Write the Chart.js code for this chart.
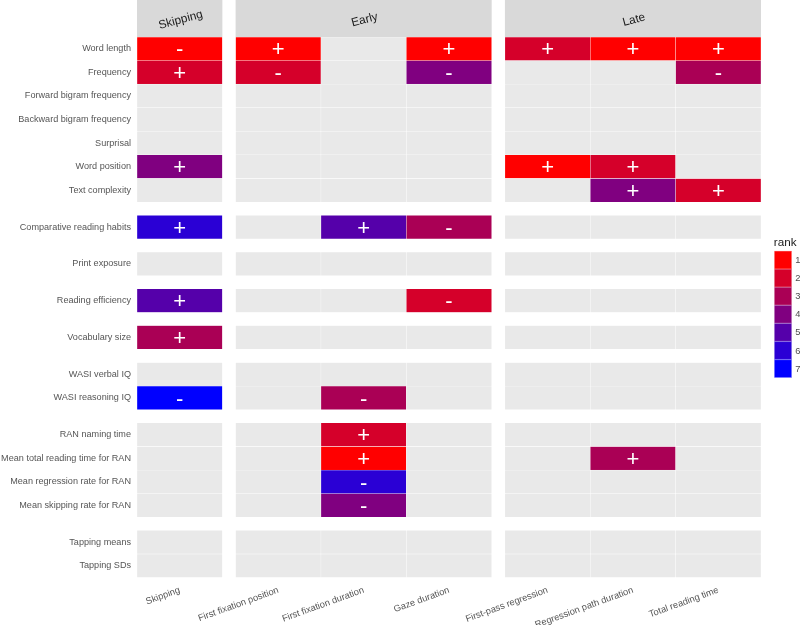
<!DOCTYPE html>
<html>
<head>
<meta charset="utf-8">
<script src="https://cdn.jsdelivr.net/npm/chart.js@4.4.1/dist/chart.umd.min.js"></script>
<style>
  html, body { margin: 0; padding: 0; background: #ffffff; }
  #wrap { width: 800px; height: 625px; }
</style>
</head>
<body>
<div id="wrap"><canvas id="c" width="800" height="625"></canvas></div>
<script>
// ---------------- DATA ----------------
const predictors = [
  'Word length', 'Frequency', 'Forward bigram frequency', 'Backward bigram frequency',
  'Surprisal', 'Word position', 'Text complexity',
  'Comparative reading habits',
  'Print exposure',
  'Reading efficiency',
  'Vocabulary size',
  'WASI verbal IQ', 'WASI reasoning IQ',
  'RAN naming time', 'Mean total reading time for RAN', 'Mean regression rate for RAN', 'Mean skipping rate for RAN',
  'Tapping means', 'Tapping SDs'
];
const predictorGroup = [0,0,0,0,0,0,0, 1, 2, 3, 4, 5,5, 6,6,6,6, 7,7];

const facets = ['Skipping', 'Early', 'Late'];
const measures = ['Skipping', 'First fixation position', 'First fixation duration', 'Gaze duration',
                  'First-pass regression', 'Regression path duration', 'Total reading time'];
const measureFacet = [0, 1, 1, 1, 2, 2, 2];

const rankLevels = [1, 2, 3, 4, 5, 6, 7];

// rank per predictor (null = no effect), one array per measure
const rankSkipping     = [1,2,null,null,null,4,null, 6, null, 5, 3, null,7, null,null,null,null, null,null];
const signSkipping     = ['-','+','','','','+','', '+', '', '+', '+', '','-', '','','','', '',''];
const rankFFPosition   = [1,2,null,null,null,null,null, null, null, null, null, null,null, null,null,null,null, null,null];
const signFFPosition   = ['+','-','','','','','', '', '', '', '', '','', '','','','', '',''];
const rankFFDuration   = [null,null,null,null,null,null,null, 5, null, null, null, null,3, 2,1,6,4, null,null];
const signFFDuration   = ['','','','','','','', '+', '', '', '', '','-', '+','+','-','-', '',''];
const rankGaze         = [1,4,null,null,null,null,null, 3, null, 2, null, null,null, null,null,null,null, null,null];
const signGaze         = ['+','-','','','','','', '-', '', '-', '', '','', '','','','', '',''];
const rankFirstPass    = [2,null,null,null,null,1,null, null, null, null, null, null,null, null,null,null,null, null,null];
const signFirstPass    = ['+','','','','','+','', '', '', '', '', '','', '','','','', '',''];
const rankRegPath      = [1,null,null,null,null,2,4, null, null, null, null, null,null, null,3,null,null, null,null];
const signRegPath      = ['+','','','','','+','+', '', '', '', '', '','', '','+','','', '',''];
const rankTotal        = [1,3,null,null,null,null,2, null, null, null, null, null,null, null,null,null,null, null,null];
const signTotal        = ['+','-','','','','','+', '', '', '', '', '','', '','','','', '',''];

const measureRanks = [rankSkipping, rankFFPosition, rankFFDuration, rankGaze, rankFirstPass, rankRegPath, rankTotal];
const measureSigns = [signSkipping, signFFPosition, signFFDuration, signGaze, signFirstPass, signRegPath, signTotal];

// ---------------- STYLE ----------------
const rankColors = ['#FF0000', '#D5002A', '#AA0055', '#800080', '#5500AA', '#2A00D5', '#0000FF'];
const naColor = '#E9E9E9';
const FONT = '"Liberation Sans", Arial, sans-serif';
const ROW_GAP = 0.56;   // panel spacing in row units
const COL_GAP = 0.155;  // panel spacing in column units

const rowPos = i => i + ROW_GAP * predictorGroup[i];
const colPos = j => j + COL_GAP * measureFacet[j];

// build cells
const cells = [];
measures.forEach((m, j) => {
  predictors.forEach((p, i) => {
    cells.push({
      y: rowPos(i),
      x: [colPos(j) - 0.5, colPos(j) + 0.5],
      rank: measureRanks[j][i],
      sign: measureSigns[j][i]
    });
  });
});

// ---------------- PLUGINS ----------------
const stripPlugin = {
  id: 'strips',
  afterDraw(chart) {
    const ctx = chart.ctx, xs = chart.scales.x, area = chart.chartArea;
    facets.forEach((f, k) => {
      const cols = measures.map((m, j) => j).filter(j => measureFacet[j] === k);
      const x0 = xs.getPixelForValue(colPos(cols[0]) - 0.5);
      const x1 = xs.getPixelForValue(colPos(cols[cols.length - 1]) + 0.5);
      ctx.save();
      ctx.fillStyle = '#D9D9D9';
      ctx.fillRect(x0, 0, x1 - x0, area.top);
      ctx.translate((x0 + x1) / 2 + 1, area.top / 2 + 1.5);
      ctx.rotate(-15 * Math.PI / 180);
      ctx.fillStyle = '#1A1A1A';
      ctx.font = '11.8px ' + FONT;
      ctx.textAlign = 'center';
      ctx.textBaseline = 'middle';
      ctx.fillText(f, 0, 0);
      ctx.restore();
    });
  }
};

const signPlugin = {
  id: 'signs',
  afterDatasetsDraw(chart) {
    const ctx = chart.ctx;
    const meta = chart.getDatasetMeta(0);
    const data = chart.data.datasets[0].data;
    ctx.save();
    ctx.fillStyle = '#FFFFFF';
    ctx.font = '22px ' + FONT;
    ctx.textAlign = 'center';
    ctx.textBaseline = 'alphabetic';
    meta.data.forEach((bar, k) => {
      const d = data[k];
      if (d.rank && d.sign) {
        const c = bar.getCenterPoint();
        ctx.fillText(d.sign, c.x, c.y + 7.7);
      }
    });
    ctx.restore();
  }
};

const legendPlugin = {
  id: 'rankLegend',
  afterDraw(chart) {
    const ctx = chart.ctx, area = chart.chartArea;
    const keyW = 17.4, keyH = 18.1, titleH = 14;
    const blockH = titleH + keyH * rankLevels.length;
    const top = (area.top + area.bottom) / 2 - blockH / 2;
    const left = area.right + 13.3;
    ctx.save();
    ctx.fillStyle = '#1A1A1A';
    ctx.font = '11.7px ' + FONT;
    ctx.textAlign = 'left';
    ctx.textBaseline = 'middle';
    ctx.fillText('rank', left - 0.5, top + 6);
    rankLevels.forEach((r, k) => {
      const y = top + titleH + k * keyH;
      ctx.fillStyle = rankColors[r - 1];
      ctx.fillRect(left, y, keyW, keyH);
      ctx.strokeStyle = 'rgba(255,255,255,0.35)';
      ctx.lineWidth = 0.6;
      ctx.strokeRect(left + 0.3, y + 0.3, keyW - 0.6, keyH - 0.6);
      ctx.fillStyle = '#4D4D4D';
      ctx.font = '9.3px ' + FONT;
      ctx.fillText(String(r), left + keyW + 3.5, y + keyH / 2 + 0.5);
    });
    ctx.restore();
  }
};

// ---------------- CHART ----------------
new Chart(document.getElementById('c'), {
  type: 'bar',
  data: {
    datasets: [{
      data: cells,
      backgroundColor: ctx => (ctx.raw && ctx.raw.rank) ? rankColors[ctx.raw.rank - 1] : naColor,
      borderColor: ctx => (ctx.raw && ctx.raw.rank) ? 'rgba(255,255,255,0.3)' : 'rgba(255,255,255,0.45)',
      borderWidth: 0.5,
      borderSkipped: false,
      barPercentage: 1,
      categoryPercentage: 1
    }]
  },
  options: {
    indexAxis: 'y',
    responsive: false,
    animation: false,
    events: [],
    layout: { padding: { top: 37, right: 39, left: 0, bottom: 0 } },
    plugins: { legend: { display: false }, tooltip: { enabled: false } },
    scales: {
      y: {
        type: 'linear',
        reverse: true,
        offset: false,
        min: -0.5,
        max: rowPos(predictors.length - 1) + 0.5,
        grid: { display: false, drawTicks: false },
        border: { display: false },
        afterBuildTicks: s => { s.ticks = predictors.map((p, i) => ({ value: rowPos(i) })); },
        afterFit: s => { s.width = 137; s.paddingTop = 0; s.paddingBottom = 0; },
        ticks: {
          autoSkip: false,
          padding: 6,
          color: '#555555',
          font: { family: FONT, size: 9.1 },
          callback: (v, i) => predictors[i]
        }
      },
      x: {
        type: 'linear',
        offset: false,
        min: -0.5,
        max: colPos(measures.length - 1) + 0.5,
        grid: { display: false, drawTicks: false },
        border: { display: false },
        afterBuildTicks: s => { s.ticks = measures.map((m, j) => ({ value: colPos(j) })); },
        afterFit: s => { s.height = 47.4; s.paddingLeft = 0; s.paddingRight = 0; },
        ticks: {
          autoSkip: false,
          minRotation: 20,
          maxRotation: 20,
          padding: 7,
          color: '#555555',
          font: { family: FONT, size: 9.3 },
          callback: (v, i) => measures[i]
        }
      }
    }
  },
  plugins: [stripPlugin, signPlugin, legendPlugin]
});
</script>
</body>
</html>
